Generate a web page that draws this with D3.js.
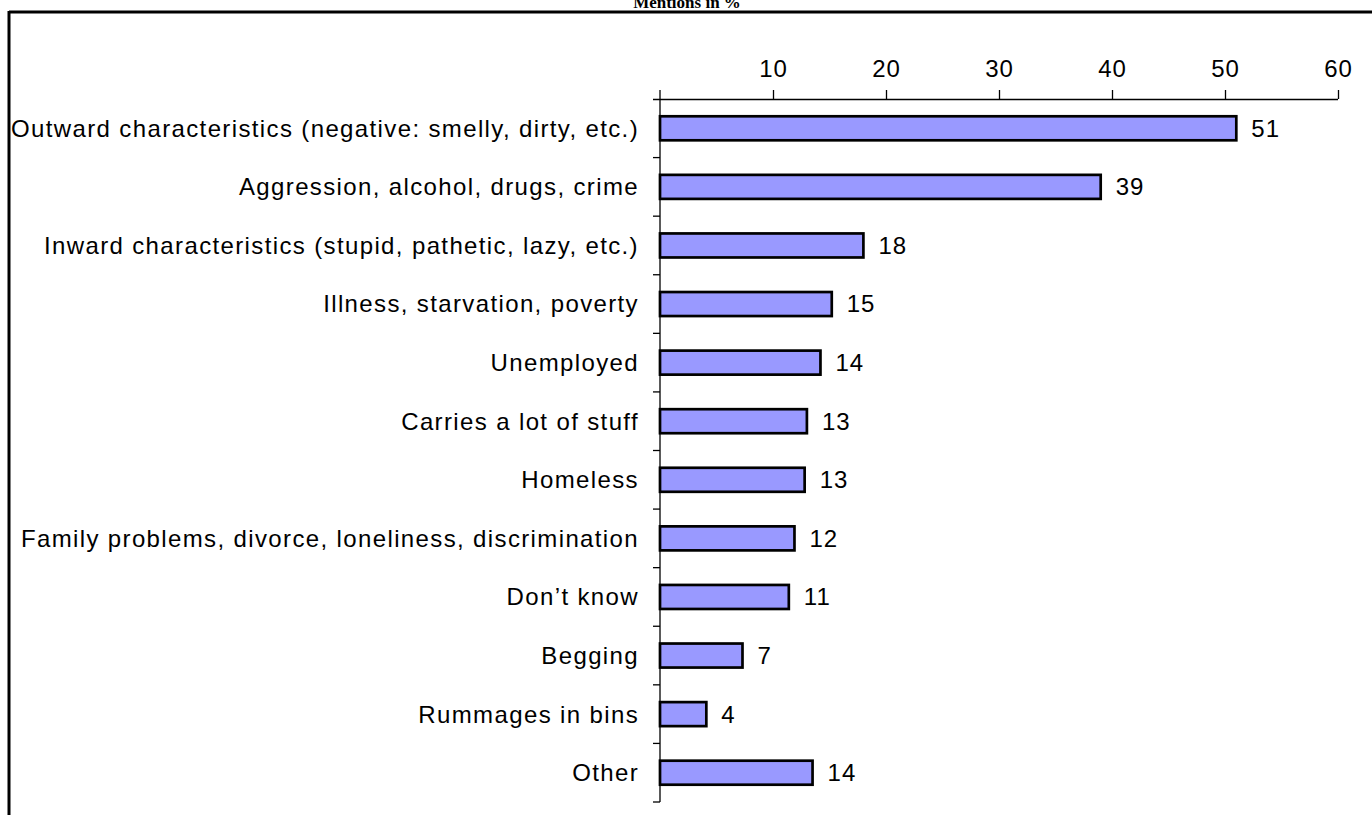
<!DOCTYPE html>
<html>
<head>
<meta charset="utf-8">
<script src="https://cdn.jsdelivr.net/npm/d3@7"></script>
<style>
  body { margin: 0; background: #fff; }
  svg { display: block; }
</style>
</head>
<body>
<svg id="chart" width="1372" height="815"></svg>
<script>
// categories top to bottom
const categories = [
    "Outward characteristics (negative: smelly, dirty, etc.)",
    "Aggression, alcohol, drugs, crime",
    "Inward characteristics (stupid, pathetic, lazy, etc.)",
    "Illness, starvation, poverty",
    "Unemployed",
    "Carries a lot of stuff",
    "Homeless",
    "Family problems, divorce, loneliness, discrimination",
    "Don\u2019t know",
    "Begging",
    "Rummages in bins",
    "Other"
];
// bar lengths
const mentions = [51, 39, 18, 15.2, 14.2, 13, 12.8, 11.9, 11.4, 7.3, 4.1, 13.5];
// printed labels
const valueLabels = ["51", "39", "18", "15", "14", "13", "13", "12", "11", "7", "4", "14"];
const tickValues = [10, 20, 30, 40, 50, 60];
const titleText = "Mentions in %";

const svg = d3.select("#chart");

// frame: only top and left edges show
svg.append("line")
    .attr("x1", 9).attr("x2", 1372)
    .attr("y1", 12).attr("y2", 12)
    .attr("stroke", "#000").attr("stroke-width", 3);
svg.append("line")
    .attr("x1", 9).attr("x2", 9)
    .attr("y1", 11).attr("y2", 815)
    .attr("stroke", "#000").attr("stroke-width", 3);

svg.append("text")
    .attr("x", 687)
    .attr("y", 8)
    .attr("text-anchor", "middle")
    .style("font-family", "'Liberation Serif', 'Times New Roman', serif")
    .style("font-weight", "bold")
    .style("font-size", "17px")
    .text(titleText);

const x = d3.scaleLinear()
            .domain([0, 60])
            .range([660, 1338]);

const y = d3.scaleBand()
            .domain(categories)
            .range([99, 802])
            .paddingInner(0.59)
            .paddingOuter(0.295);

const font = "'Liberation Sans', Arial, sans-serif";

// top axis
const xAxis = svg.append("g")
    .attr("transform", "translate(0, 99)")
    .call(d3.axisTop(x).tickValues(tickValues).tickSize(9).tickPadding(13).tickSizeOuter(0));
xAxis.select(".domain").attr("stroke", "#000").attr("stroke-width", 1.3)
    .attr("d", `M${x(0) - 7},0.5H${x(60)}`);
xAxis.selectAll(".tick line").attr("stroke", "#000").attr("stroke-width", 1.3);
xAxis.selectAll(".tick text")
    .style("font-family", font)
    .style("font-size", "24px")
    .style("letter-spacing", "1px")
    .attr("fill", "#000");

// left axis with ticks between categories
const boundaries = d3.range(categories.length + 1).map(i => 99 + i * y.step());
svg.append("line")
    .attr("x1", 660).attr("x2", 660)
    .attr("y1", 90).attr("y2", boundaries[boundaries.length - 1])
    .attr("stroke", "#000").attr("stroke-width", 1.3);
svg.selectAll(".ytick")
    .data(boundaries.slice(1))
    .enter()
    .append("line")
    .attr("class", "ytick")
    .attr("x1", 653).attr("x2", 660)
    .attr("y1", d => d).attr("y2", d => d)
    .attr("stroke", "#000").attr("stroke-width", 1.3);

// bars
svg.selectAll(".bar")
    .data(mentions)
    .enter()
    .append("rect")
    .attr("class", "bar")
    .attr("x", x(0))
    .attr("y", (d, i) => y(categories[i]))
    .attr("width", d => x(d) - x(0))
    .attr("height", y.bandwidth())
    .style("fill", "#9999FF")
    .style("stroke", "#000")
    .style("stroke-width", 2.7);

// category labels
svg.selectAll(".cat")
    .data(categories)
    .enter()
    .append("text")
    .attr("class", "cat")
    .attr("x", 639)
    .attr("y", d => y(d) + y.bandwidth() / 2)
    .attr("dy", "0.35em")
    .attr("text-anchor", "end")
    .style("font-family", font)
    .style("font-size", "24px")
    .style("letter-spacing", "1.37px")
    .text(d => d);

// value labels
svg.selectAll(".val")
    .data(mentions)
    .enter()
    .append("text")
    .attr("class", "val")
    .attr("x", d => x(d) + 15)
    .attr("y", (d, i) => y(categories[i]) + y.bandwidth() / 2)
    .attr("dy", "0.35em")
    .style("font-family", font)
    .style("font-size", "24px")
    .style("letter-spacing", "1px")
    .text((d, i) => valueLabels[i]);
</script>
</body>
</html>
